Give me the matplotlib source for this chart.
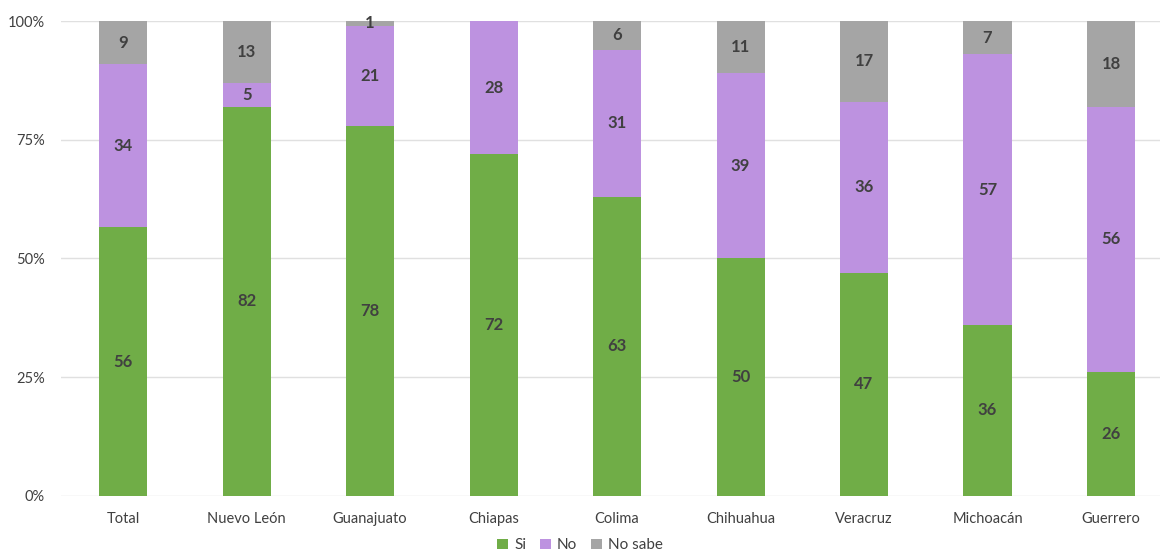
#!/usr/bin/env python3

import matplotlib
matplotlib.use('Agg')
from matplotlib.pyplot import figure
from matplotlib.ticker import PercentFormatter
from numpy import array

categories = ['Total', 'Nuevo León', 'Guanajuato', 'Chiapas', 'Colima',
              'Chihuahua', 'Veracruz', 'Michoacán', 'Guerrero']
si = [56, 82, 78, 72, 63, 50, 47, 36, 26]
no = [34, 5, 21, 28, 31, 39, 36, 57, 56]
no_sabe = [9, 13, 1, 0, 6, 11, 17, 7, 18]

series = [('Si', si, '#70AD47'), ('No', no, '#BD92E0'), ('No sabe', no_sabe, '#A5A5A5')]

matplotlib.rcParams['font.family'] = ['Lato', 'DejaVu Sans']

fig = figure(figsize=(11.6, 5.54), dpi=100)
ax = fig.add_axes([0.053, 0.105, 0.958, 0.857])

totals = array(si) + array(no) + array(no_sabe)
x = range(len(categories))
bottom = array([0.0] * len(categories))
for name, vals, color in series:
    share = array(vals) / totals
    ax.bar(x, share, 0.39, bottom=bottom, color=color, label=name, zorder=2)
    for i, (v, s, b) in enumerate(zip(vals, share, bottom)):
        if v > 0:
            ax.text(i, b + s / 2, str(v), ha='center', va='center',
                    fontsize=12, fontweight='bold', color='#404040', zorder=3)
    bottom = bottom + share

ax.set_xlim(-0.5, len(categories) - 0.5)
ax.set_ylim(0, 1)
ax.set_yticks([0, 0.25, 0.5, 0.75, 1.0])
ax.yaxis.set_major_formatter(PercentFormatter(1.0, decimals=0))
ax.set_xticks(list(x))
ax.set_xticklabels(categories)
ax.tick_params(axis='both', length=0, labelsize=10.5, colors='#404040')
ax.tick_params(axis='x', pad=12)
ax.tick_params(axis='y', pad=12)
ax.grid(axis='y', color='#E0E0E0', linewidth=1, zorder=0)
for sp in ax.spines.values():
    sp.set_visible(False)

fig.legend(loc='lower center', ncol=3, frameon=False, fontsize=11,
           bbox_to_anchor=(0.5, -0.022), handlelength=0.7, handleheight=0.7,
           handletextpad=0.4, columnspacing=0.9, labelcolor='#404040')

fig.savefig('out.png')
